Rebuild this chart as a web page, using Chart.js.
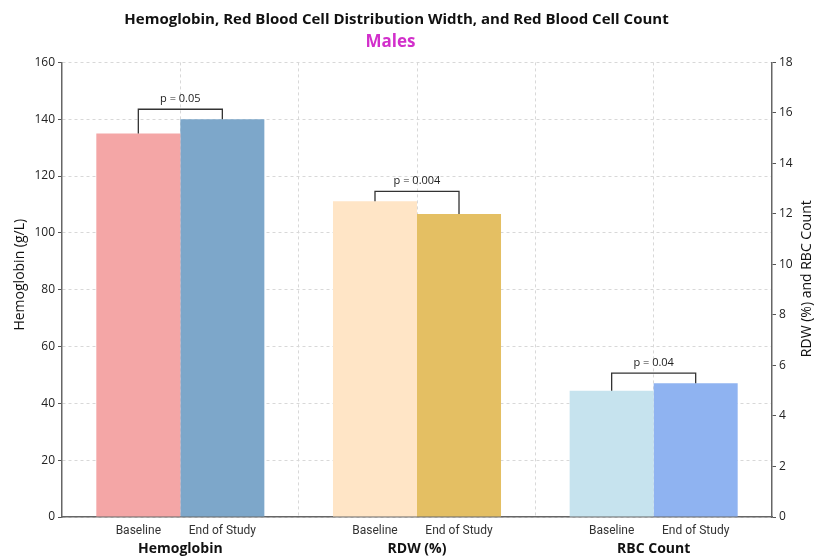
<!DOCTYPE html>
<html>
<head>
<meta charset="utf-8">
<script src="https://cdn.jsdelivr.net/npm/chart.js@4"></script>
<style>
  html, body { margin: 0; padding: 0; background: #fff; }
  #wrap { width: 815px; height: 557px; }
</style>
</head>
<body>
<div id="wrap"><canvas id="canvas"></canvas></div>
<script>
// groups on the x axis, and the two time points inside each group
const groups = ["Hemoglobin", "RDW (%)", "RBC Count"];
const phases = ["Baseline", "End of Study"];

// hemoglobin goes on the left axis (g/L), RDW and RBC on the right one
const hbBaseline = [135, null, null];
const hbEnd = [140, null, null];
const rightBaseline = [null, 12.5, 5.0];
const rightEnd = [null, 12.0, 5.3];

const pValues = ["p = 0.05", "p = 0.004", "p = 0.04"];
const axisTitles = ["Hemoglobin (g/L)", "RDW (%) and RBC Count"];
const mainTitle = "Hemoglobin, Red Blood Cell Distribution Width, and Red Blood Cell Count";
const subTitle = "Males";

const baselineColors = ["#F4A6A6", "#FFE5C6", "#C6E3EE"];
const endColors = ["#7DA7CA", "#E4BF63", "#8FB3F1"];

const FONT = "'Open Sans', 'DejaVu Sans', sans-serif";
const SUB_FONT = "Roboto, 'Open Sans', sans-serif";

// draws the Baseline / End of Study labels, the p-value brackets
// and both y titles (the right one reads bottom-to-top like the left one)
const bracketPlugin = {
  id: "brackets",
  afterLayout(chart) {
    // the titles sit a little left of the canvas centre in the original
    chart.boxes.forEach(b => {
      if (b.position !== "top" || !b.options) return;
      const shift = b.options.text === mainTitle ? -11 : b.options.text === subTitle ? -17 : 0;
      b.left += shift;
      b.right += shift;
    });
  },
  afterDatasetsDraw(chart) {
    const ctx = chart.ctx;
    const area = chart.chartArea;
    groups.forEach((g, i) => {
      const left = i === 0 ? chart.getDatasetMeta(0).data[i] : chart.getDatasetMeta(2).data[i];
      const right = i === 0 ? chart.getDatasetMeta(1).data[i] : chart.getDatasetMeta(3).data[i];
      if (!left || !right) return;
      const top = Math.min(left.y, right.y) - 10;

      ctx.save();
      ctx.strokeStyle = "#333";
      ctx.lineWidth = 1.3;
      ctx.beginPath();
      ctx.moveTo(left.x, left.y);
      ctx.lineTo(left.x, top);
      ctx.lineTo(right.x, top);
      ctx.lineTo(right.x, right.y);
      ctx.stroke();

      ctx.fillStyle = "#222";
      ctx.font = "11px " + FONT;
      ctx.textAlign = "center";
      ctx.textBaseline = "middle";
      ctx.fillText(pValues[i], (left.x + right.x) / 2, top - 10);

      ctx.font = "12px " + SUB_FONT;
      ctx.fillStyle = "#333";
      ctx.fillText(phases[0], left.x, area.bottom + 13.5);
      ctx.fillText(phases[1], right.x, area.bottom + 13.5);
      ctx.restore();
    });

    ctx.save();
    ctx.fillStyle = "#111";
    ctx.font = "14px " + FONT;
    ctx.textAlign = "center";
    ctx.textBaseline = "middle";
    const midY = (area.top + area.bottom) / 2;
    [[20, midY - 15, axisTitles[0]], [chart.width - 8, midY - 11, axisTitles[1]]].forEach(([x, y, text]) => {
      ctx.save();
      ctx.translate(x, y);
      ctx.rotate(-Math.PI / 2);
      ctx.fillText(text, 0, 0);
      ctx.restore();
    });
    ctx.restore();
  }
};

const chart = new Chart(document.getElementById("canvas").getContext("2d"), {
  type: "bar",
  data: {
    labels: groups,
    datasets: [
      { label: "Hemoglobin baseline", data: hbBaseline, yAxisID: "y", backgroundColor: baselineColors },
      { label: "Hemoglobin end", data: hbEnd, yAxisID: "y", backgroundColor: endColors },
      { label: "Baseline", data: rightBaseline, yAxisID: "y1", backgroundColor: baselineColors },
      { label: "End of Study", data: rightEnd, yAxisID: "y1", backgroundColor: endColors },
    ],
  },
  options: {
    responsive: true,
    maintainAspectRatio: false,
    animation: false,
    skipNull: true,
    categoryPercentage: 0.71,
    barPercentage: 1.0,
    layout: { padding: 0 },
    plugins: {
      legend: { display: false },
      tooltip: { enabled: false },
      title: {
        display: true,
        text: mainTitle,
        color: "#111",
        font: { family: FONT, size: 15, weight: "bold" },
        padding: { top: 11, bottom: 3 },
      },
      subtitle: {
        display: true,
        text: subTitle,
        color: "#D22FCB",
        font: { family: FONT, size: 17, weight: "bold" },
        padding: { top: 0, bottom: 10 },
      },
    },
    scales: {
      x: {
        grid: { display: false, drawTicks: false },
        border: { color: "#666", width: 1.5 },
        ticks: {
          color: "#111",
          padding: 24,
          font: { family: FONT, size: 14, weight: "bold" },
        },
        afterFit(scale) { scale.height = 40; },
      },
      xg: {
        type: "category",
        labels: groups.flatMap(() => phases),
        position: "bottom",
        offset: true,
        ticks: { display: false },
        grid: { color: "#d8d8d8", drawTicks: false, offset: true },
        border: { display: false, dash: [3, 3] },
        afterFit(scale) { scale.height = 0; },
      },
      y: {
        position: "left",
        min: 0,
        max: 160,
        ticks: { stepSize: 20, color: "#222", padding: 3, font: { family: FONT, size: 12 } },
        grid: { color: "#d8d8d8", tickColor: "#555", tickLength: 4, tickBorderDash: [] },
        border: { color: "#666", width: 1.5, dash: [3, 3] },
        afterFit(scale) { scale.width = 62; },
      },
      y1: {
        position: "right",
        min: 0,
        max: 18,
        ticks: { stepSize: 2, color: "#222", padding: 3, font: { family: FONT, size: 12 } },
        grid: { drawOnChartArea: false, tickColor: "#555", tickLength: 4 },
        border: { color: "#666", width: 1.5 },
        afterFit(scale) { scale.width = 43; },
      },
    },
  },
  plugins: [bracketPlugin],
});
</script>
</body>
</html>
